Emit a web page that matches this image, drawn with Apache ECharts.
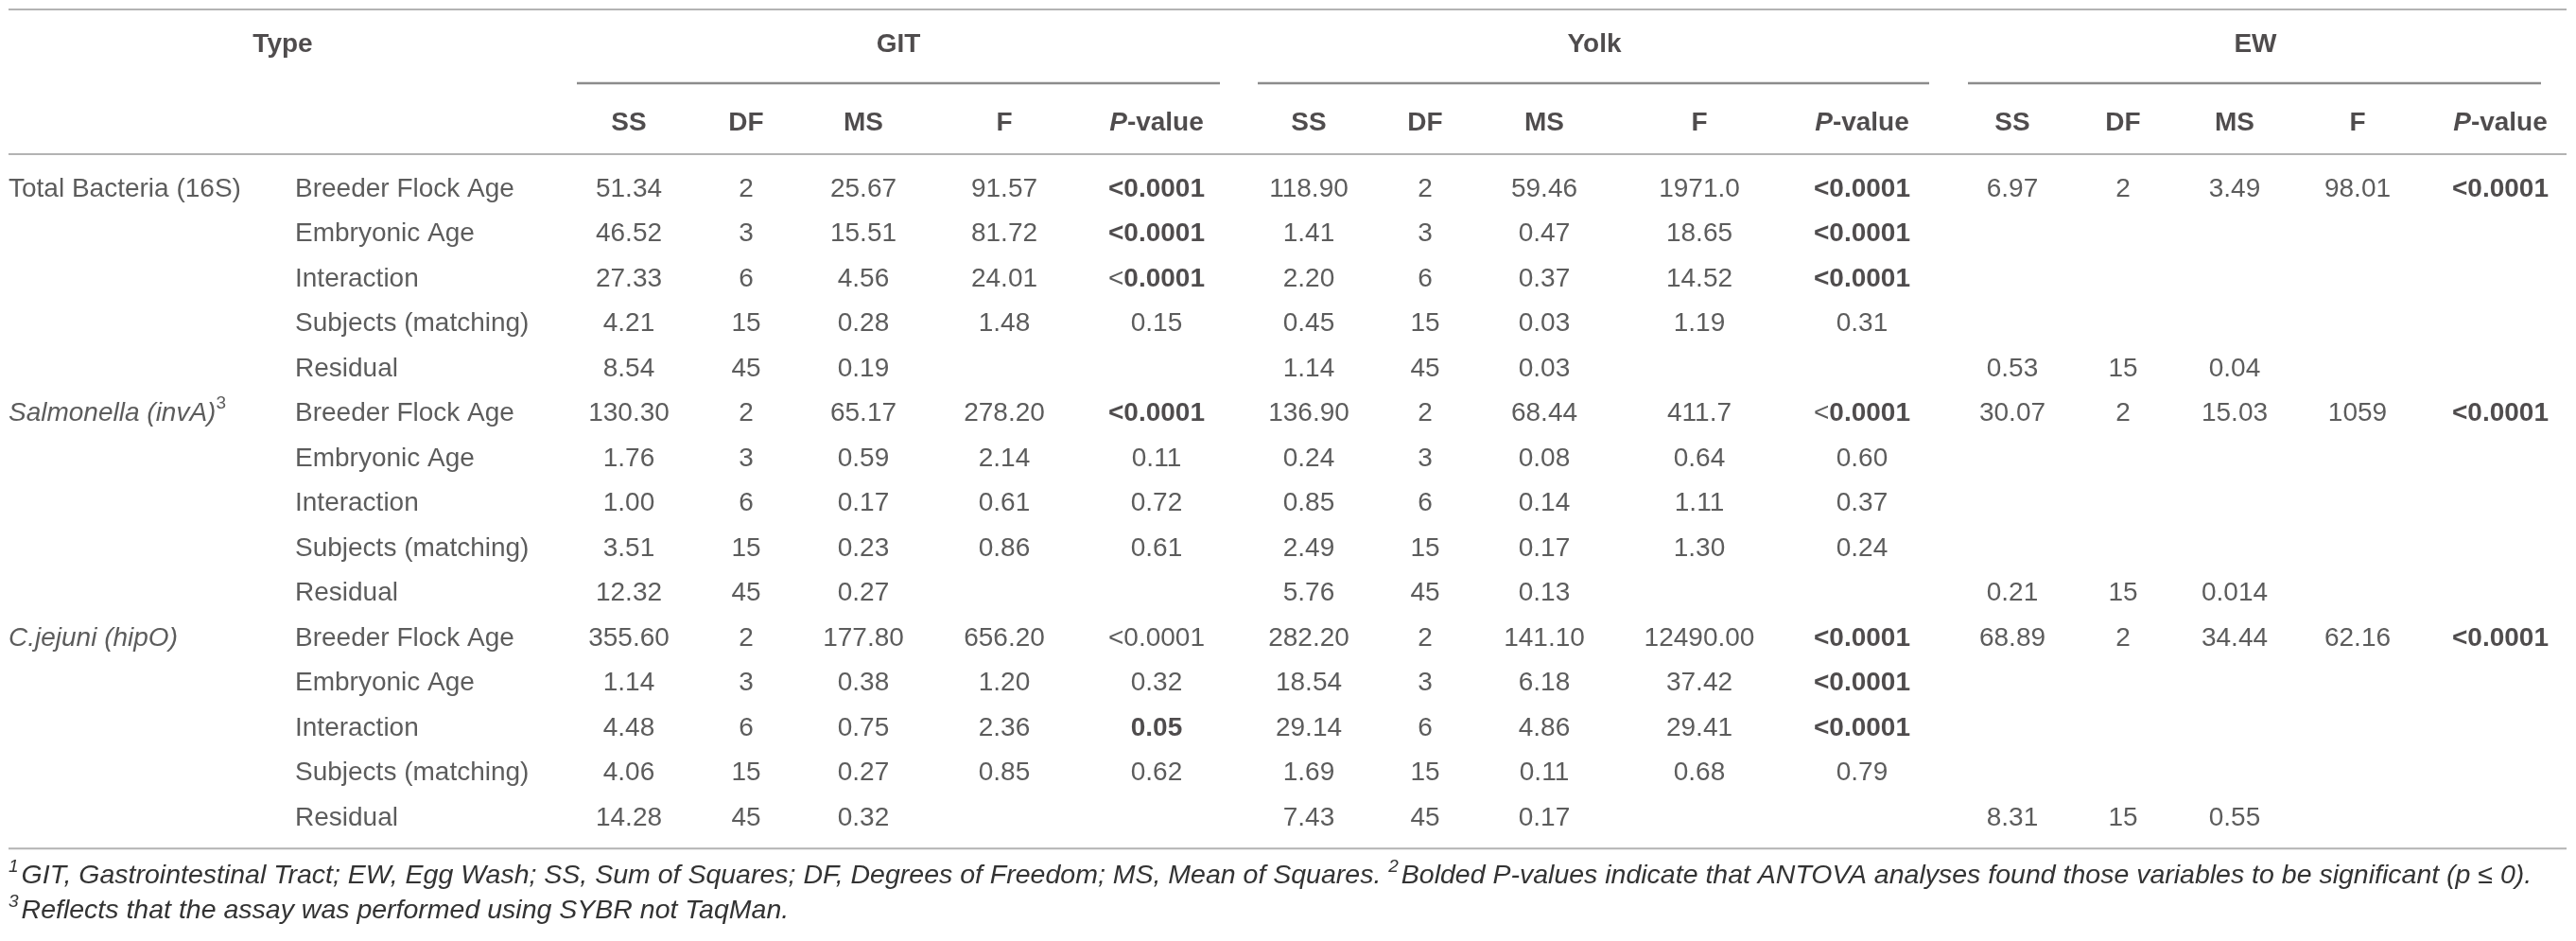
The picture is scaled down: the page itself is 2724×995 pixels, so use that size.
<!DOCTYPE html>
<html>
<head>
<meta charset="utf-8">
<script src="https://cdn.jsdelivr.net/npm/echarts@6/dist/echarts.min.js"></script>
<style>
html,body{margin:0;padding:0;background:#ffffff;}
#chart{width:2724px;height:995px;}
</style>
</head>
<body>
<div id="chart"></div>
<script>
// ================= DATA =================
const groupTitles = ['Type', 'GIT', 'Yolk', 'EW'];
const tissues = ['GIT', 'Yolk', 'EW'];
const statCols = ['SS', 'DF', 'MS', 'F', 'P-value'];
const targets = ['Total Bacteria (16S)', 'Salmonella (invA)', 'C.jejuni (hipO)'];
const targetNotes = ['', '3', ''];
const factors = ['Breeder Flock Age', 'Embryonic Age', 'Interaction', 'Subjects (matching)', 'Residual'];

// rows: [SS, DF, MS, F, P-value];  **x** marks bold (significant) text
const gitRows = [
  ['51.34', '2', '25.67', '91.57', '**<0.0001**'],
  ['46.52', '3', '15.51', '81.72', '**<0.0001**'],
  ['27.33', '6', '4.56', '24.01', '<**0.0001**'],
  ['4.21', '15', '0.28', '1.48', '0.15'],
  ['8.54', '45', '0.19', '', ''],
  ['130.30', '2', '65.17', '278.20', '**<0.0001**'],
  ['1.76', '3', '0.59', '2.14', '0.11'],
  ['1.00', '6', '0.17', '0.61', '0.72'],
  ['3.51', '15', '0.23', '0.86', '0.61'],
  ['12.32', '45', '0.27', '', ''],
  ['355.60', '2', '177.80', '656.20', '<0.0001'],
  ['1.14', '3', '0.38', '1.20', '0.32'],
  ['4.48', '6', '0.75', '2.36', '**0.05**'],
  ['4.06', '15', '0.27', '0.85', '0.62'],
  ['14.28', '45', '0.32', '', '']
];
const yolkRows = [
  ['118.90', '2', '59.46', '1971.0', '**<0.0001**'],
  ['1.41', '3', '0.47', '18.65', '**<0.0001**'],
  ['2.20', '6', '0.37', '14.52', '**<0.0001**'],
  ['0.45', '15', '0.03', '1.19', '0.31'],
  ['1.14', '45', '0.03', '', ''],
  ['136.90', '2', '68.44', '411.7', '<**0.0001**'],
  ['0.24', '3', '0.08', '0.64', '0.60'],
  ['0.85', '6', '0.14', '1.11', '0.37'],
  ['2.49', '15', '0.17', '1.30', '0.24'],
  ['5.76', '45', '0.13', '', ''],
  ['282.20', '2', '141.10', '12490.00', '**<0.0001**'],
  ['18.54', '3', '6.18', '37.42', '**<0.0001**'],
  ['29.14', '6', '4.86', '29.41', '**<0.0001**'],
  ['1.69', '15', '0.11', '0.68', '0.79'],
  ['7.43', '45', '0.17', '', '']
];
const ewRows = [
  ['6.97', '2', '3.49', '98.01', '**<0.0001**'],
  ['', '', '', '', ''],
  ['', '', '', '', ''],
  ['', '', '', '', ''],
  ['0.53', '15', '0.04', '', ''],
  ['30.07', '2', '15.03', '1059', '**<0.0001**'],
  ['', '', '', '', ''],
  ['', '', '', '', ''],
  ['', '', '', '', ''],
  ['0.21', '15', '0.014', '', ''],
  ['68.89', '2', '34.44', '62.16', '**<0.0001**'],
  ['', '', '', '', ''],
  ['', '', '', '', ''],
  ['', '', '', '', ''],
  ['8.31', '15', '0.55', '', '']
];
const footnote1 = [
  ['1', 'GIT, Gastrointestinal Tract; EW, Egg Wash; SS, Sum of Squares; DF, Degrees of Freedom; MS, Mean of Squares. '],
  ['2', 'Bolded P-values indicate that ANTOVA analyses found those variables to be significant (p \u2264 0).']
];
const footnote2 = [
  ['3', 'Reflects that the assay was performed using SYBR not TaqMan.']
];

// ================= LAYOUT / STYLE =================
const W = 2724, H = 995;
const FONT = '"Liberation Sans", Arial, Helvetica, sans-serif';
const TXT = '#333333';
const TXTB = '#231f20';
const FS = 28;
const FNS = 28.5;
const italicTargets = new Set(['Salmonella (invA)', 'C.jejuni (hipO)']);
// horizontal table layout (axis units = px)
const typeLeft = 9, factorLeft = 312;
const groupCenters = [299, 950, 1686, 2385];
const colCenters = [
  [665, 789, 913, 1062, 1223],
  [1384, 1507, 1633, 1797, 1969],
  [2128, 2245, 2363, 2493, 2644]
];
const groupSpans = [[610, 1290], [1330, 2040], [2081, 2687]];
const ruleSpan = [9, 2714];
// vertical layout in row units (data row i sits at i)
const vTop = -4, vMax = 15, rowPx = 47.5, gridTop = 10;
const vGroupTitle = -3.22, vGroupLine = -2.36, vHeader = -1.47, vHeadRule = -0.78, vBottomRule = 14.68;

const tissueRows = [gitRows, yolkRows, ewRows];

function toRich(s) { return s.replace(/\*\*(.+?)\*\*/g, '{b|$1}'); }

const richBase = {
  b: { fontFamily: FONT, fontSize: FS, fontWeight: 'bold', color: TXTB, lineHeight: 40 },
  n: { fontFamily: FONT, fontSize: FS, fontWeight: 'normal', color: TXT, lineHeight: 40 },
  i: { fontFamily: FONT, fontSize: FS, fontStyle: 'italic', color: TXT, lineHeight: 40 },
  bi: { fontFamily: FONT, fontSize: FS, fontWeight: 'bold', fontStyle: 'italic', color: TXTB, lineHeight: 40 },
  sup: { fontFamily: FONT, fontSize: 19, color: TXT, verticalAlign: 'top', lineHeight: 20 }
};

function textSeries(name, data, extra) {
  return {
    name: name,
    type: 'scatter',
    symbol: 'circle',
    symbolSize: 1,
    silent: true,
    clip: false,
    itemStyle: { color: 'rgba(0,0,0,0)' },
    data: data,
    label: Object.assign({
      show: true,
      position: 'inside',
      align: 'center',
      verticalAlign: 'middle',
      fontFamily: FONT,
      fontSize: FS,
      color: TXT,
      lineHeight: 40,
      formatter: function (p) { return p.data.t; },
      rich: richBase
    }, extra || {})
  };
}

// group titles
const titleData = groupTitles.map((g, k) => ({ value: [groupCenters[k], vGroupTitle], t: g }));
// column headers
const headerData = [];
tissues.forEach((ts, k) => {
  statCols.forEach((c, j) => {
    const t = c === 'P-value' ? '{bi|P}-value' : c;
    headerData.push({ value: [colCenters[k][j], vHeader], t: t });
  });
});
// target labels
const targetData = targets.map((tg, k) => {
  let t = italicTargets.has(tg) ? '{i|' + tg + '}' : tg;
  if (targetNotes[k]) t += '{sup|' + targetNotes[k] + '}';
  return { value: [typeLeft, k * factors.length], t: t };
});
// factor labels
const factorData = [];
targets.forEach((tg, k) => {
  factors.forEach((f, j) => {
    factorData.push({ value: [factorLeft, k * factors.length + j], t: f });
  });
});
// values
const valueData = [];
tissueRows.forEach((rows, k) => {
  rows.forEach((row, r) => {
    row.forEach((cell, c) => {
      if (cell !== '') valueData.push({ value: [colCenters[k][c], r], t: toRich(cell) });
    });
  });
});

function rule(name, x0, x1, v, color, width) {
  return {
    name: name, type: 'line', silent: true, clip: false, symbol: 'none',
    data: [[x0, v], [x1, v]],
    lineStyle: { color: color, width: width },
    animation: false
  };
}

const series = [
  rule('top', ruleSpan[0], ruleSpan[1], vTop, '#b3b3b3', 2),
  rule('head', ruleSpan[0], ruleSpan[1], vHeadRule, '#b3b3b3', 2),
  rule('bottom', ruleSpan[0], ruleSpan[1], vBottomRule, '#b3b3b3', 2),
  ...groupSpans.map((s, k) => rule('grp' + k, s[0], s[1], vGroupLine, '#8c8c8c', 2.5)),
  textSeries('titles', titleData, { fontWeight: 'bold', color: TXTB }),
  textSeries('headers', headerData, { fontWeight: 'bold', color: TXTB }),
  textSeries('targets', targetData, { align: 'left' }),
  textSeries('factors', factorData, { align: 'left' }),
  textSeries('values', valueData, {})
];

function footText(parts) {
  return parts.map(p => '{sup|' + p[0] + '}{t|' + p[1] + '}').join('');
}
const footRich = {
  t: { fontFamily: FONT, fontSize: FNS, fontStyle: 'italic', color: TXT, lineHeight: 38 },
  sup: { fontFamily: FONT, fontSize: 19, color: TXT, verticalAlign: 'top', lineHeight: 18, padding: [0, 3, 0, 0] }
};
const footStyle = { fontFamily: FONT, fontSize: FNS, fontStyle: 'italic', fontWeight: 'normal', color: TXT, rich: footRich };

const option = {
  backgroundColor: '#ffffff',
  animation: false,
  title: [
    { left: 9, top: 907, padding: 0, text: footText(footnote1), textStyle: footStyle },
    { left: 9, top: 944, padding: 0, text: footText(footnote2), textStyle: footStyle }
  ],
  grid: { left: 0, right: 0, top: gridTop, height: (vMax - vTop) * rowPx, containLabel: false },
  xAxis: { type: 'value', min: 0, max: W, show: false },
  yAxis: { type: 'value', inverse: true, min: vTop, max: vMax, show: false },
  series: series
};

const chart = echarts.init(document.getElementById('chart'), null, { renderer: 'canvas', width: W, height: H });
chart.setOption(option);
</script>
</body>
</html>
